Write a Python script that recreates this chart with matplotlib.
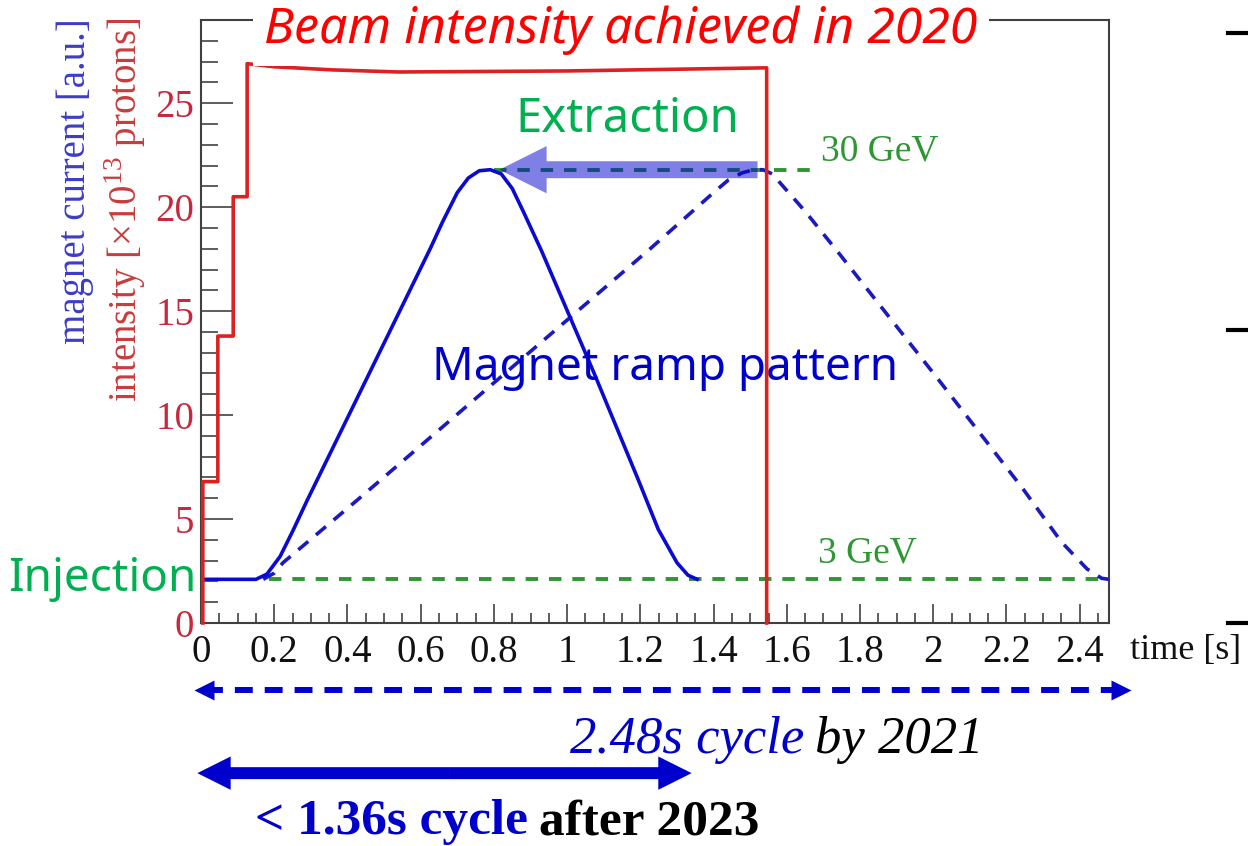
import matplotlib
matplotlib.use("Agg")
import matplotlib.pyplot as plt
import matplotlib.transforms as mtransforms
from matplotlib.patches import FancyArrowPatch
from matplotlib.lines import Line2D
from matplotlib.ticker import MultipleLocator, FuncFormatter

plt.rcParams["font.family"] = ["Liberation Serif", "DejaVu Serif"]
plt.rcParams["mathtext.fontset"] = "custom"
plt.rcParams["mathtext.rm"] = "Liberation Serif"

# beam intensity [x1e13 protons]: four injected batches, flat top, extraction
batch_t = [0.005, 0.046, 0.088, 0.126]
batch_level = [6.8, 13.8, 20.5, 26.9]
flat_t = [0.20, 0.36, 0.54, 1.00, 1.545]
flat_level = [26.75, 26.6, 26.5, 26.55, 26.7]
extract_t = 1.545

# magnet current, fast (1.36 s) pattern
fast_t = [0.00, 0.15, 0.18, 0.216, 0.25, 0.29, 0.626, 0.66, 0.70, 0.73, 0.76,
          0.79, 0.82, 0.85, 0.88, 0.93, 1.074, 1.194, 1.249, 1.30, 1.33, 1.355]
fast_i = [2.1, 2.1, 2.35, 3.2, 4.4, 5.9, 18.0, 19.3, 20.7, 21.4, 21.75,
          21.8, 21.6, 20.9, 19.8, 17.9, 12.0, 6.9, 4.5, 2.9, 2.3, 2.1]

# magnet current, old (2.48 s) pattern
slow_t = [0.17, 0.20, 0.224, 0.426, 1.227, 1.40, 1.44, 1.478, 1.51, 1.535, 1.56,
          1.58, 1.61, 1.65, 1.746, 2.01, 2.243, 2.35, 2.42, 2.46, 2.48]
slow_i = [2.1, 2.4, 2.9, 5.9, 18.0, 20.7, 21.3, 21.65, 21.8, 21.8, 21.6,
          21.2, 20.6, 19.8, 17.7, 11.8, 6.5, 3.9, 2.6, 2.15, 2.1]

inj_level = 2.1      # 3 GeV
top_level = 21.8     # 30 GeV
inj_line = [0.186, 2.48]
top_line = [0.80, 1.69]
cycle_old = 2.48
cycle_new = 1.36

# step curve for the beam intensity
red_t, red_v = [batch_t[0]], [0.0]
for k in range(len(batch_t)):
    red_t.append(batch_t[k])
    red_v.append(batch_level[k])
    if k + 1 < len(batch_t):
        red_t.append(batch_t[k + 1])
        red_v.append(batch_level[k])
red_t += flat_t + [extract_t]
red_v += flat_level + [0.0]

fig = plt.figure(figsize=(12.48, 8.46), dpi=100)
ax = fig.add_axes([201 / 1248, 223 / 846, 908 / 1248, 603 / 846])
ax.set_xlim(0, cycle_old)
ax.set_ylim(0, 29)

green = "#2e9632"
ax.plot(inj_line, [inj_level, inj_level], color=green, lw=2.8, ls=(0, (3.2, 2.8)), zorder=2)
ax.plot(top_line, [top_level, top_level], color=green, lw=2.8, ls=(0, (3.2, 2.8)), zorder=2)
ax.plot(slow_t, slow_i, color="#1a1ac0", lw=2.6, ls=(0, (3.6, 2.8)), zorder=3)
ax.plot(fast_t, fast_i, color="#0a0ad2", lw=2.6, zorder=3)
ax.plot(red_t, red_v, color="#dd2020", lw=2.6, zorder=4, clip_on=False)

# extraction arrow
ext = FancyArrowPatch((1.52, top_level), (0.815, top_level),
                      arrowstyle="simple,head_width=34,head_length=34,tail_width=12.2",
                      mutation_scale=1, color="#0000cc", alpha=0.5, lw=0,
                      shrinkA=0, shrinkB=0, zorder=5)
ax.add_patch(ext)

for side in ["left", "bottom", "right", "top"]:
    ax.spines[side].set_color("#404040")
    ax.spines[side].set_linewidth(1.5)

ax.xaxis.set_major_locator(MultipleLocator(0.2))
ax.xaxis.set_minor_locator(MultipleLocator(0.05))
ax.yaxis.set_major_locator(MultipleLocator(5))
ax.yaxis.set_minor_locator(MultipleLocator(1))
ax.xaxis.set_major_formatter(FuncFormatter(lambda v, p: "%g" % round(v, 2)))
ax.tick_params(axis="both", which="both", direction="in", color="#505050",
               top=False, right=False)
ax.tick_params(axis="y", which="major", length=23, width=1.3, labelsize=28,
               labelcolor="#c8283c", pad=5)
ax.tick_params(axis="y", which="minor", length=12, width=1.3)
ax.tick_params(axis="x", which="major", length=14, width=1.3, labelsize=28,
               labelcolor="#111111", pad=8)
ax.tick_params(axis="x", which="minor", length=7, width=1.3)

fig.text(1130 / 1248, 1 - 650 / 846, "time [s]", fontsize=26, ha="left", va="center",
         color="#111111")

fig.text(75 / 1248, 1 - 18 / 846, "magnet current [a.u.]", rotation=90,
         ha="center", va="top", fontsize=28, color="#3c3cc8")
fig.text(125 / 1248, 1 - 18 / 846, r"intensity [$\times$10$^{\mathregular{13}}$ protons]",
         rotation=90, ha="center", va="top", fontsize=28, color="#c83c3c")

sans = ["Noto Sans", "DejaVu Sans"]
fig.text(621 / 1248, 1 - 30 / 846, "Beam intensity achieved in 2020", ha="center",
         va="center", fontsize=36, style="italic", family=sans, color="#ff0000",
         bbox=dict(fc="white", ec="none", pad=8))
ax.text(1.164, 24.2, "Extraction", ha="center", va="center", fontsize=34,
        family=sans, color="#00b050")
ax.text(-0.27, inj_level, "Injection", ha="center", va="center", fontsize=33,
        family=sans, color="#00b050")
ax.text(1.267, 12.25, "Magnet ramp pattern", ha="center", va="center", fontsize=33,
        family=sans, color="#0000cc")
ax.text(1.694, 22.7, "30 GeV", ha="left", va="center", fontsize=27, color=green)
ax.text(1.686, 3.37, "3 GeV", ha="left", va="center", fontsize=27, color=green)

# cycle length arrows under the time axis
trans = mtransforms.blended_transform_factory(ax.transData, ax.transAxes)
y_old, y_new = -0.111, -0.249
ax.plot([0.01, cycle_old + 0.03], [y_old, y_old], transform=trans, clip_on=False,
        color="#0000cc", lw=4.3, ls=(0, (3, 2)))
ax.plot([0.008], [y_old], transform=trans, clip_on=False, marker="<", ms=15,
        color="#0000cc", mec="none")
ax.plot([cycle_old + 0.032], [y_old], transform=trans, clip_on=False, marker=">",
        ms=15, color="#0000cc", mec="none")
mid = cycle_new / 2
for end in [-0.01, cycle_new - 0.02]:
    arr = FancyArrowPatch((mid, y_new), (end, y_new), transform=trans,
                          arrowstyle="simple,head_width=24,head_length=24,tail_width=8.6",
                          mutation_scale=1, color="#0000cc", lw=0,
                          shrinkA=0, shrinkB=0, clip_on=False)
    ax.add_patch(arr)

# two-colour captions
fig.canvas.draw()
renderer = fig.canvas.get_renderer()


def caption(x_px, base_px, first, second, size, **kw):
    t1 = fig.text(x_px / 1248, 1 - base_px / 846, first, ha="left", va="baseline",
                  color="#0000cc", fontsize=size, **kw)
    w = t1.get_window_extent(renderer).width
    fig.text((x_px + w + 11) / 1248, 1 - base_px / 846, second, ha="left",
             va="baseline", color="black", fontsize=size, **kw)


caption(570, 753, "2.48s cycle", "by 2021", 38, style="italic")
caption(255, 834, "< 1.36s cycle", "after 2023", 37, weight="bold")

# short marks at the right edge
for y in [33, 330, 623]:
    fig.add_artist(Line2D([1228 / 1248, 1.0], [1 - y / 846, 1 - y / 846],
                          transform=fig.transFigure, color="black", lw=3))

fig.savefig("out.png", dpi=100)
